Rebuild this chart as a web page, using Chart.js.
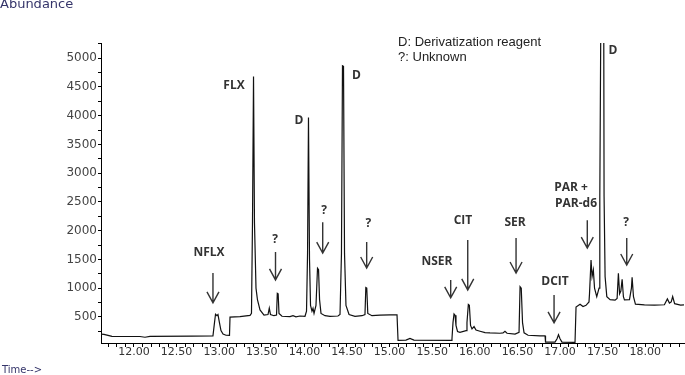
<!DOCTYPE html>
<html>
<head>
<meta charset="utf-8">
<script src="https://cdn.jsdelivr.net/npm/chart.js@4.4.1/dist/chart.umd.min.js"></script>
<style>
  html, body { margin: 0; padding: 0; background: #fff; }
</style>
</head>
<body>
<canvas id="chromChart" width="685" height="375"></canvas>
<script>
// retention time (min) and abundance
const times = [
  11.613, 11.648, 11.742, 12.070, 12.129, 12.188, 12.681, 12.927, 12.945, 12.957,
  12.974, 12.986, 13.003, 13.021, 13.045, 13.080, 13.121, 13.127, 13.244, 13.362,
  13.379, 13.391, 13.403, 13.414, 13.432, 13.449, 13.479, 13.526, 13.573, 13.588,
  13.602, 13.643, 13.673, 13.682, 13.692, 13.702, 13.737, 13.831, 13.866, 13.901,
  13.948, 14.007, 14.025, 14.037, 14.048, 14.060, 14.072, 14.089, 14.101, 14.113,
  14.136, 14.154, 14.166, 14.178, 14.195, 14.242, 14.300, 14.394, 14.418, 14.435,
  14.447, 14.459, 14.471, 14.488, 14.524, 14.594, 14.676, 14.711, 14.721, 14.732,
  14.744, 14.793, 14.887, 15.005, 15.087, 15.099, 15.192, 15.239, 15.286, 15.721,
  15.732, 15.744, 15.756, 15.768, 15.779, 15.797, 15.826, 15.897, 15.908, 15.924,
  15.936, 15.950, 15.967, 15.991, 16.014, 16.061, 16.120, 16.178, 16.296, 16.331,
  16.354, 16.378, 16.472, 16.519, 16.531, 16.545, 16.560, 16.578, 16.625, 16.765,
  16.824, 16.830, 16.941, 16.965, 16.982, 17.000, 17.023, 17.176, 17.188, 17.235,
  17.270, 17.305, 17.340, 17.346, 17.364, 17.376, 17.391, 17.405, 17.431, 17.458,
  17.467, 17.482, 17.512, 17.517, 17.529, 17.549, 17.588, 17.646, 17.670, 17.685,
  17.699, 17.714, 17.729, 17.744, 17.756, 17.815, 17.838, 17.846, 17.862, 17.885,
  17.991, 18.108, 18.225, 18.260, 18.284, 18.305, 18.322, 18.345, 18.415, 18.455
];
const abundance = [
  200, 195, 160, 158, 145, 160, 165, 170, 400, 545,
  520, 540, 400, 260, 200, 180, 178, 495, 505, 525,
  560, 2150, 4680, 2150, 1000, 800, 620, 530, 540, 650,
  540, 520, 530, 910, 900, 560, 510, 505, 520, 500,
  515, 510, 600, 1600, 3970, 1500, 700, 600, 650, 560,
  700, 1345, 1320, 800, 560, 520, 510, 515, 540, 1600,
  4870, 4860, 1600, 700, 540, 510, 520, 540, 1010, 1000,
  560, 520, 530, 535, 535, 90, 95, 125, 95, 90,
  120, 400, 552, 530, 350, 245, 230, 260, 400, 715,
  700, 350, 290, 330, 270, 250, 225, 220, 215, 220,
  250, 215, 200, 230, 1025, 1000, 400, 222, 180, 170,
  170, 60, 60, 120, 190, 120, 60, 55, 670, 720,
  680, 700, 760, 900, 1490, 1200, 1315, 1000, 852, 1000,
  2600, 6500, 6500, 2600, 1200, 852, 800, 790, 820, 1258,
  900, 950, 1154, 850, 795, 800, 1000, 1189, 850, 720,
  710, 705, 710, 812, 740, 760, 852, 730, 705, 708
];

// axis ranges and tick steps
const xMin = 11.613, xMax = 18.455, xStep = 0.1, xLabelEvery = 0.5;
const yMin = 45, yMax = 5265, yStep = 250, yLabelEvery = 500;

// peak labels (text, time, abundance level of the text centre)
const noteText  = ['NFLX', 'FLX', '?', 'D', '?', 'D', '?', 'NSER', 'CIT', 'SER', 'DCIT', 'PAR +', 'PAR-d6', 'D', '?'];
const noteTime  = [12.88, 13.174, 13.655, 13.937, 14.230, 14.611, 14.750, 15.556, 15.861, 16.472, 16.941, 17.129, 17.188, 17.622, 17.775];
const noteLevel = [1610, 4525, 1836, 3918, 2356, 4699, 2131, 1454, 2183, 2148, 1107, 2756, 2478, 5132, 2148];

// arrows pointing at peaks (time, start level, tip level)
const arrowTime = [12.927, 13.661, 14.215, 14.731, 15.717, 15.917, 16.484, 16.930, 17.320, 17.783];
const arrowFrom = [1263, 1628, 2148, 1801, 1142, 1836, 1871, 882, 2183, 1871];
const arrowTo   = [743, 1142, 1610, 1350, 830, 968, 1263, 396, 1697, 1402];

// key text in the upper right
const keyText  = ['D: Derivatization reagent', '?: Unknown'];
const keyTime  = 15.099;
const keyLevel = [5276, 5016];

function onStep(v, step) {
    const r = v / step;
    return Math.abs(r - Math.round(r)) < 1e-6;
}

// dibuja etiquetas, flechas y textos sueltos
const notesPlugin = {
    id: 'peakNotes',
    afterDraw(chart) {
        const ctx = chart.ctx;
        const x = chart.scales.x, y = chart.scales.y;
        ctx.save();

        ctx.strokeStyle = '#333';
        ctx.lineWidth = 1.4;
        arrowTime.forEach(function(t, i) {
            const px = x.getPixelForValue(t);
            const y0 = y.getPixelForValue(arrowFrom[i]);
            const y1 = y.getPixelForValue(arrowTo[i]);
            ctx.beginPath();
            ctx.moveTo(px, y0);
            ctx.lineTo(px, y1);
            ctx.moveTo(px - 6, y1 - 11);
            ctx.lineTo(px, y1);
            ctx.lineTo(px + 6, y1 - 11);
            ctx.stroke();
        });

        ctx.fillStyle = '#333';
        ctx.font = 'bold 12px "Open Sans"';
        ctx.textAlign = 'center';
        ctx.textBaseline = 'middle';
        noteText.forEach(function(txt, i) {
            ctx.fillText(txt, x.getPixelForValue(noteTime[i]), y.getPixelForValue(noteLevel[i]));
        });

        ctx.fillStyle = '#222';
        ctx.font = '13px "Liberation Sans"';
        ctx.textAlign = 'left';
        keyText.forEach(function(txt, i) {
            ctx.fillText(txt, x.getPixelForValue(keyTime), y.getPixelForValue(keyLevel[i]));
        });

        ctx.fillStyle = '#35356a';
        ctx.font = '13px "DejaVu Sans"';
        ctx.fillText('Abundance', 0, 5);
        ctx.font = '10px "DejaVu Sans"';
        ctx.fillText('Time-->', 2, 370);
        ctx.restore();
    }
};

new Chart(document.getElementById('chromChart'), {
    type: 'scatter',
    data: {
        datasets: [{
            data: times.map(function(t, i) { return { x: t, y: abundance[i] }; }),
            showLine: true,
            borderColor: '#111',
            borderWidth: 1.2,
            pointRadius: 0,
            tension: 0
        }]
    },
    options: {
        responsive: false,
        animation: false,
        devicePixelRatio: 1,
        layout: { padding: { top: 43, right: 1, left: 0, bottom: 0 } },
        plugins: {
            legend: { display: false },
            tooltip: { enabled: false }
        },
        scales: {
            x: {
                type: 'linear',
                min: xMin,
                max: xMax,
                border: { display: true, color: '#000', width: 1 },
                grid: { drawOnChartArea: false, drawTicks: true, tickLength: 4, color: '#000' },
                ticks: {
                    stepSize: xStep,
                    autoSkip: false,
                    maxRotation: 0,
                    includeBounds: false,
                    padding: -1,
                    color: '#333',
                    font: { family: 'DejaVu Sans', size: 11 },
                    callback: function(v) { return onStep(v, xLabelEvery) ? v.toFixed(2) : ''; }
                },
                afterFit: function(s) { s.height = 32; }
            },
            y: {
                min: yMin,
                max: yMax,
                border: { display: true, color: '#000', width: 1 },
                grid: { drawOnChartArea: false, drawTicks: true, tickLength: 3, color: '#000' },
                ticks: {
                    autoSkip: false,
                    padding: 1,
                    color: '#444',
                    font: { family: 'DejaVu Sans', size: 12 },
                    callback: function(v) { return onStep(v, yLabelEvery) ? String(Math.round(v)) : ''; }
                },
                // ticks on round multiples of the step, not spread between min and max
                afterBuildTicks: function(s) {
                    const list = [];
                    for (let v = Math.ceil(yMin / yStep) * yStep; v <= yMax; v += yStep) {
                        list.push({ value: v });
                    }
                    s.ticks = list;
                },
                afterFit: function(s) { s.width = 101; }
            }
        }
    },
    plugins: [notesPlugin]
});
</script>
</body>
</html>
